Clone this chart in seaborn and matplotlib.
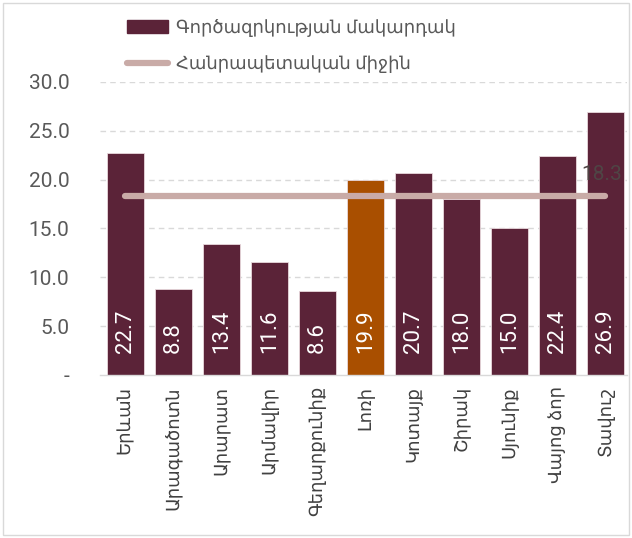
import numpy as np
import pandas as pd
import matplotlib
matplotlib.use("Agg")
import matplotlib.pyplot as plt
import seaborn as sns
from matplotlib.patches import Patch, Rectangle
from matplotlib.lines import Line2D

# Տվյալներ
marzer = ['Երևան', 'Արագածոտն', 'Արարատ', 'Արմավիր', 'Գեղարքունիք', 'Լոռի',
          'Կոտայք', 'Շիրակ', 'Սյունիք', 'Վայոց ձոր', 'Տավուշ']
gorcazrkutyun = [22.7, 8.8, 13.4, 11.6, 8.6, 19.9, 20.7, 18.0, 15.0, 22.4, 26.9]
hanrapetakan_mijin = 18.3
y_ticks = [0, 5, 10, 15, 20, 25, 30]
y_tick_labels = ['-', '5.0', '10.0', '15.0', '20.0', '25.0', '30.0']
bar_label = 'Գործազրկության մակարդակ'
line_label = 'Հանրապետական միջին'

mug = '#5B2338'
narnji = '#A94F00'
vard = '#C9ABA7'
colors = [narnji if m == 'Լոռի' else mug for m in marzer]

sns.set_theme(style='white')
plt.rcParams['font.family'] = ['Roboto', 'DejaVu Sans']

df = pd.DataFrame({'marz': marzer, 'val': gorcazrkutyun})

fig = plt.figure(figsize=(6.32, 5.38), dpi=100)
ax = fig.add_axes([0.158, 0.303, 0.834, 0.545])

sns.barplot(data=df, x='marz', y='val', hue='marz', palette=colors, legend=False,
            saturation=1, width=0.77, edgecolor='#E8D8DC', linewidth=0.6, ax=ax, zorder=2)

n = len(marzer)
ax.plot(np.arange(n), [hanrapetakan_mijin] * n, color=vard, lw=4.5,
        solid_capstyle='round', zorder=3)
ax.annotate(f'{hanrapetakan_mijin:.1f}', xy=(n - 1, hanrapetakan_mijin),
            xytext=(17, 12), textcoords='offset pixels', ha='right', va='bottom',
            fontsize=15, color='#4F4545', zorder=4)

# արժեքները սյուների ներքևում
for i, v in enumerate(gorcazrkutyun):
    ax.text(i, 2.2, f'{v:.1f}', rotation=90, ha='center', va='bottom',
            color='white', fontsize=16, zorder=4)

ax.set_xlim(-0.53, n - 1 + 0.45)
ax.set_ylim(0, 30)
ax.set_yticks(y_ticks)
ax.set_yticklabels(y_tick_labels, fontsize=15, color='#595959')
ax.tick_params(axis='x', labelrotation=90, labelsize=13, labelcolor='#404040', length=0, pad=8)
ax.tick_params(axis='y', length=0, pad=22)
ax.set_xlabel('')
ax.set_ylabel('')

for y in y_ticks[1:]:
    ax.axhline(y, color='#D9D9D9', lw=1, ls=(0, (4, 3)), zorder=0)
for s in ['top', 'right', 'left']:
    ax.spines[s].set_visible(False)
ax.spines['bottom'].set_color('#D9D9D9')
ax.spines['bottom'].set_linewidth(1)

handles = [Patch(facecolor=mug, edgecolor=mug),
           Line2D([0], [0], color=vard, lw=4.5, solid_capstyle='round')]
fig.legend(handles, [bar_label, line_label], loc='upper left',
           bbox_to_anchor=(0.175, 0.995), frameon=False, fontsize=13,
           handlelength=2.3, handleheight=0.7, handletextpad=0.4,
           labelspacing=1.0, labelcolor='#595959')

fig.patches.append(Rectangle((0.005, 0.005), 0.99, 0.99, transform=fig.transFigure,
                             fill=False, edgecolor='#D9D9D9', lw=1))

fig.savefig('out.png', dpi=100)
